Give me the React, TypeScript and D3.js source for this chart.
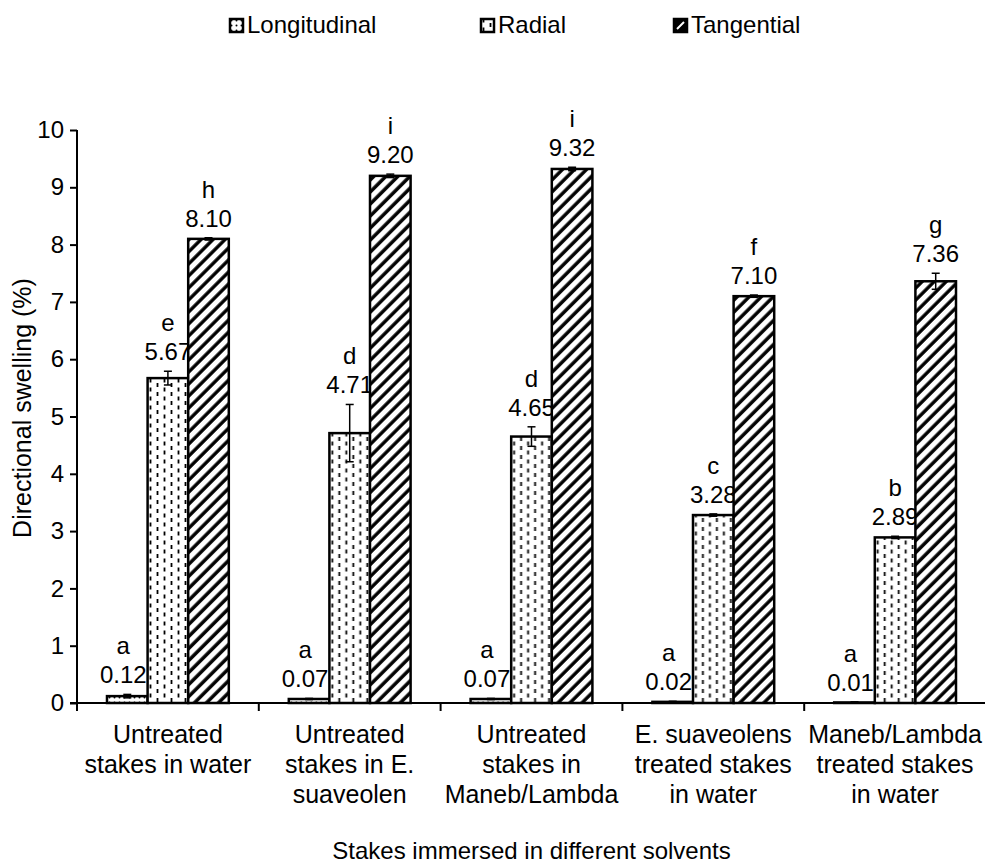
import React, { useRef, useEffect } from "react";
import * as d3 from "d3";

const categories = [
  ["Untreated", "stakes in water"],
  ["Untreated", "stakes in E.", "suaveolen"],
  ["Untreated", "stakes in", "Maneb/Lambda"],
  ["E. suaveolens", "treated stakes", "in water"],
  ["Maneb/Lambda", "treated stakes", "in water"],
];
const seriesNames = ["Longitudinal", "Radial", "Tangential"];
const longitudinal = [0.12, 0.07, 0.07, 0.02, 0.01];
const radial = [5.67, 4.71, 4.65, 3.28, 2.89];
const tangential = [8.1, 9.2, 9.32, 7.1, 7.36];
const longitudinalErr = [0.03, 0.01, 0.01, 0.01, 0.01];
const radialErr = [0.12, 0.5, 0.17, 0.02, 0.02];
const tangentialErr = [0.02, 0.03, 0.03, 0.02, 0.14];
const longitudinalLetters = ["a", "a", "a", "a", "a"];
const radialLetters = ["e", "d", "d", "c", "b"];
const tangentialLetters = ["h", "i", "i", "f", "g"];
const yTicks = [0, 1, 2, 3, 4, 5, 6, 7, 8, 9, 10];

const FONT = "'Liberation Sans', Arial, Helvetica, sans-serif";

export default function App() {
  const svgRef = useRef<SVGSVGElement>(null);

  useEffect(() => {
    const svgEl = svgRef.current;
    if (!svgEl) return;
    const svg = d3.select(svgEl);
    svg.selectAll("*").remove();

    const left = 77, right = 986, top = 130, bottom = 703;
    const values = [longitudinal, radial, tangential];
    const errs = [longitudinalErr, radialErr, tangentialErr];
    const letters = [longitudinalLetters, radialLetters, tangentialLetters];

    const x0 = d3.scaleBand<number>()
      .domain(categories.map((_, i) => i))
      .range([left, right]);
    const x1 = d3.scaleBand<number>()
      .domain([0, 1, 2])
      .range([x0.bandwidth() * 0.165, x0.bandwidth() * 0.835]);
    const y = d3.scaleLinear().domain([0, 10]).range([bottom, top]);

    // patterns
    const defs = svg.append("defs");
    const pL = defs.append("pattern").attr("id", "pat-long")
      .attr("patternUnits", "userSpaceOnUse").attr("width", 5).attr("height", 5);
    pL.append("rect").attr("width", 5).attr("height", 5).attr("fill", "#fff");
    pL.append("circle").attr("cx", 2.5).attr("cy", 2.5).attr("r", 1).attr("fill", "#000");

    const pR = defs.append("pattern").attr("id", "pat-rad")
      .attr("patternUnits", "userSpaceOnUse").attr("width", 14).attr("height", 9);
    pR.append("rect").attr("width", 14).attr("height", 9).attr("fill", "#fff");
    pR.append("line").attr("x1", 3.5).attr("x2", 3.5).attr("y1", 0.5).attr("y2", 4.5)
      .attr("stroke", "#000").attr("stroke-width", 1.8);
    pR.append("line").attr("x1", 10.5).attr("x2", 10.5).attr("y1", 5).attr("y2", 9)
      .attr("stroke", "#000").attr("stroke-width", 1.8);

    const pT = defs.append("pattern").attr("id", "pat-tan")
      .attr("patternUnits", "userSpaceOnUse").attr("width", 8.5).attr("height", 8.5)
      .attr("patternTransform", "rotate(45)");
    pT.append("rect").attr("width", 8.5).attr("height", 8.5).attr("fill", "#fff");
    pT.append("line").attr("x1", 2).attr("x2", 2).attr("y1", 0).attr("y2", 8.5)
      .attr("stroke", "#000").attr("stroke-width", 3.4);

    const fills = ["url(#pat-long)", "url(#pat-rad)", "url(#pat-tan)"];

    // bars
    categories.forEach((_, ci) => {
      const g = svg.append("g").attr("transform", `translate(${x0(ci)},0)`);
      values.forEach((vals, si) => {
        const v = vals[ci];
        const bx = x1(si)!;
        g.append("rect")
          .attr("x", bx).attr("y", y(v))
          .attr("width", x1.bandwidth()).attr("height", y(0) - y(v))
          .attr("fill", fills[si]).attr("stroke", "#000").attr("stroke-width", 2.5);
        const cx = bx + x1.bandwidth() / 2;
        const e = errs[si][ci];
        g.append("line").attr("x1", cx).attr("x2", cx)
          .attr("y1", y(v + e)).attr("y2", y(Math.max(0, v - e)))
          .attr("stroke", "#000").attr("stroke-width", 1.5);
        [v + e, Math.max(0, v - e)].forEach(t => {
          g.append("line").attr("x1", cx - 4).attr("x2", cx + 4)
            .attr("y1", y(t)).attr("y2", y(t))
            .attr("stroke", "#000").attr("stroke-width", 1.5);
        });
        const base = y(v + e) - 11;
        const lx = si === 0 ? cx - 4 : cx;
        g.append("text").attr("x", lx).attr("y", base)
          .attr("text-anchor", "middle").attr("font-size", 24)
          .attr("font-family", FONT).text(v.toFixed(2));
        g.append("text").attr("x", lx).attr("y", base - 29)
          .attr("text-anchor", "middle").attr("font-size", 24)
          .attr("font-family", FONT).text(letters[si][ci]);
      });
    });

    // y axis
    const yAxis = svg.append("g").attr("transform", `translate(${left},0)`)
      .call(d3.axisLeft(y).tickValues(yTicks).tickFormat(d3.format("d"))
        .tickSize(7).tickPadding(6));
    yAxis.select(".domain").remove();
    yAxis.selectAll("line").attr("stroke", "#000").attr("stroke-width", 2);
    yAxis.selectAll("text").attr("font-size", 24).attr("font-family", FONT).attr("fill", "#000");
    svg.append("line").attr("x1", left).attr("x2", left).attr("y1", top).attr("y2", bottom + 8)
      .attr("stroke", "#000").attr("stroke-width", 2);

    // x axis
    svg.append("line").attr("x1", left - 7).attr("x2", right).attr("y1", bottom).attr("y2", bottom)
      .attr("stroke", "#000").attr("stroke-width", 2);
    categories.forEach((_, ci) => {
      if (ci === 0) return;
      const tx = x0(ci)!;
      svg.append("line").attr("x1", tx).attr("x2", tx).attr("y1", bottom).attr("y2", bottom + 8)
        .attr("stroke", "#000").attr("stroke-width", 2);
    });
    categories.forEach((lines, ci) => {
      const cx = x0(ci)! + x0.bandwidth() / 2;
      lines.forEach((ln, li) => {
        svg.append("text").attr("x", cx).attr("y", 743 + li * 30)
          .attr("text-anchor", "middle").attr("font-size", 25)
          .attr("font-family", FONT).text(ln);
      });
    });

    svg.append("text").attr("x", (left + right) / 2).attr("y", 859)
      .attr("text-anchor", "middle").attr("font-size", 24)
      .attr("font-family", FONT).text("Stakes immersed in different solvents");

    svg.append("text")
      .attr("transform", `translate(31,408) rotate(-90)`)
      .attr("text-anchor", "middle").attr("font-size", 25)
      .attr("font-family", FONT).text("Directional swelling (%)");

    // legend
    const legendX = [229, 480, 673];
    seriesNames.forEach((name, si) => {
      const lg = svg.append("g").attr("transform", `translate(${legendX[si]},18)`);
      lg.append("rect").attr("x", 1).attr("y", 1).attr("width", 13).attr("height", 13)
        .attr("fill", si === 2 ? "#000" : fills[si]).attr("stroke", "#000").attr("stroke-width", 2.5);
      if (si === 2) {
        lg.append("line").attr("x1", 4).attr("y1", 11).attr("x2", 11).attr("y2", 4)
          .attr("stroke", "#fff").attr("stroke-width", 2);
      }
      lg.append("text").attr("x", 18).attr("y", 15).attr("font-size", 24)
        .attr("font-family", FONT).text(name);
    });
  }, []);

  return (
    <svg ref={svgRef} width={985} height={863}
      style={{ position: "absolute", left: 0, top: 0, background: "#fff" }} />
  );
}
